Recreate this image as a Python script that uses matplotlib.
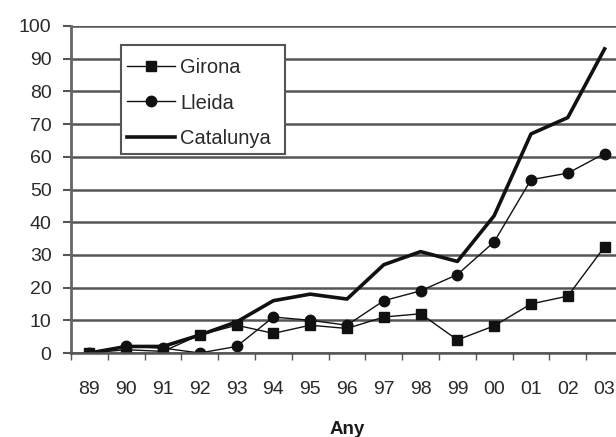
import matplotlib
matplotlib.use('Agg')
import matplotlib.pyplot as plt
from matplotlib.patches import Rectangle
import numpy as np

plt.rcParams['font.family'] = ['Liberation Sans', 'DejaVu Sans']

anys = ['89', '90', '91', '92', '93', '94', '95', '96', '97', '98', '99', '00', '01', '02', '03']
girona = [0, 1, 0.5, 5.5, 8.5, 6, 8.5, 7.5, 11, 12, 4, 8.3, 15, 17.4, 32.5]
lleida = [0, 2, 1.5, 0, 2, 11, 10, 8.5, 16, 19, 24, 34, 53, 55, 61]
catalunya = [0, 2, 2, 5.5, 9.5, 16, 18, 16.5, 27, 31, 28, 42, 67, 72, 93]

fig = plt.figure(figsize=(6.16, 4.37), dpi=100)
ax = fig.add_axes([71/616, 84/437, 552/616, 327/437])

x = np.arange(len(anys))
ax.plot(x, girona, '-s', color='#111111', lw=1.0, ms=6.5, label='Girona')
ax.plot(x, lleida, '-o', color='#111111', lw=1.0, ms=7.5, label='Lleida')
ax.plot(x, catalunya, '-', color='#111111', lw=2.6, solid_joinstyle='round', label='Catalunya')

ax.set_ylim(0, 100)
ax.set_yticks(np.arange(0, 101, 10))
ax.set_xlim(-0.5, len(anys) - 0.5)
ax.set_xticks(x)
ax.set_xticklabels(anys)
ax.set_xticks(np.arange(-0.5, len(anys), 1), minor=True)
ax.tick_params(axis='x', which='major', length=0, pad=20, labelsize=14, colors='#2a2a2a')
ax.tick_params(axis='x', which='minor', length=5, width=1, direction='out', color='#555555')
ax.tick_params(axis='y', length=6, width=1.5, pad=8, direction='out', color='#555555',
               labelsize=14, labelcolor='#2a2a2a')
ax.yaxis.grid(True, color='#555555', lw=1.8)
ax.set_axisbelow(True)

for s in ['top', 'right']:
    ax.spines[s].set_visible(False)
ax.spines['left'].set_color('#666666')
ax.spines['left'].set_linewidth(2)
ax.spines['bottom'].set_color('#555555')
ax.spines['bottom'].set_linewidth(1.8)

ax.set_xlabel('Any', fontweight='bold', fontsize=13.5, labelpad=17, color='#1a1a1a')

# legend box drawn by hand, Excel style
box = Rectangle((0.0906, 0.6086), 0.297, 0.3333, transform=ax.transAxes,
                facecolor='white', edgecolor='#555555', lw=1.5, zorder=4)
ax.add_patch(box)
leg = ax.legend(loc='center left', bbox_to_anchor=(0.1014, 0.7645), fontsize=14.5,
                frameon=False, handlelength=2.4, borderpad=0, labelspacing=0.82,
                handletextpad=0.25, borderaxespad=0)
leg.set_zorder(5)
for t in leg.get_texts():
    t.set_color('#2a2a2a')

fig.savefig('out.png', dpi=100)
